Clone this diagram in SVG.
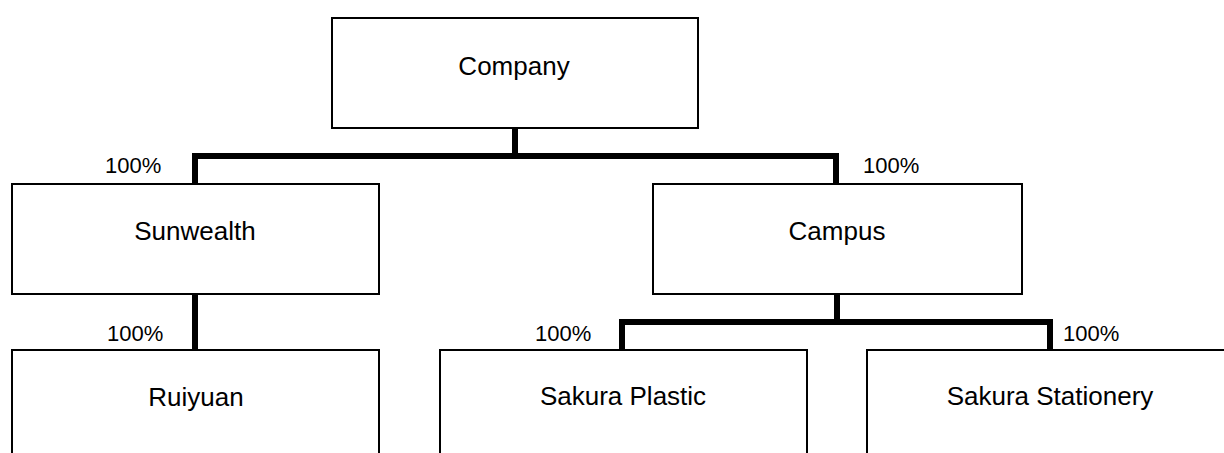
<svg xmlns="http://www.w3.org/2000/svg" width="1224" height="453" viewBox="0 0 1224 453">
<style>
.box{fill:#fff;stroke:#000;stroke-width:2}
.lbl{font-family:"Liberation Sans",Arial,sans-serif;font-size:26px;fill:#000;text-anchor:middle}
.pct{font-family:"Liberation Sans",Arial,sans-serif;font-size:22px;fill:#000}
.conn{fill:none;stroke:#000;stroke-width:6;stroke-linejoin:miter;stroke-linecap:butt}
</style>
<rect width="1224" height="453" fill="#fff"/>
<g id="connectors">
<path class="conn" d="M515,128 V156"/>
<path class="conn" d="M195,184 V156 H836 V184"/>
<path class="conn" d="M195,294 V350"/>
<path class="conn" d="M837,294 V322"/>
<path class="conn" d="M622,350 V322 H1050 V350"/>
</g>
<g id="company">
<rect class="box" x="332" y="18" width="366" height="110"/>
<text class="lbl" x="514" y="75">Company</text>
</g>
<g id="sunwealth">
<rect class="box" x="12" y="184" width="367" height="110"/>
<text class="lbl" x="195" y="240">Sunwealth</text>
<text class="pct" x="105" y="173">100%</text>
</g>
<g id="campus">
<rect class="box" x="653" y="184" width="369" height="110"/>
<text class="lbl" x="837" y="240">Campus</text>
<text class="pct" x="863" y="173">100%</text>
</g>
<g id="ruiyuan">
<rect class="box" x="12" y="350" width="367" height="120"/>
<text class="lbl" x="196" y="406">Ruiyuan</text>
<text class="pct" x="107" y="341">100%</text>
</g>
<g id="sakura-plastic">
<rect class="box" x="440" y="350" width="367" height="120"/>
<text class="lbl" x="623" y="405">Sakura Plastic</text>
<text class="pct" x="535" y="341">100%</text>
</g>
<g id="sakura-stationery">
<rect class="box" x="867" y="350" width="380" height="120"/>
<text class="lbl" x="1050" y="405">Sakura Stationery</text>
<text class="pct" x="1063" y="341">100%</text>
</g>
</svg>
